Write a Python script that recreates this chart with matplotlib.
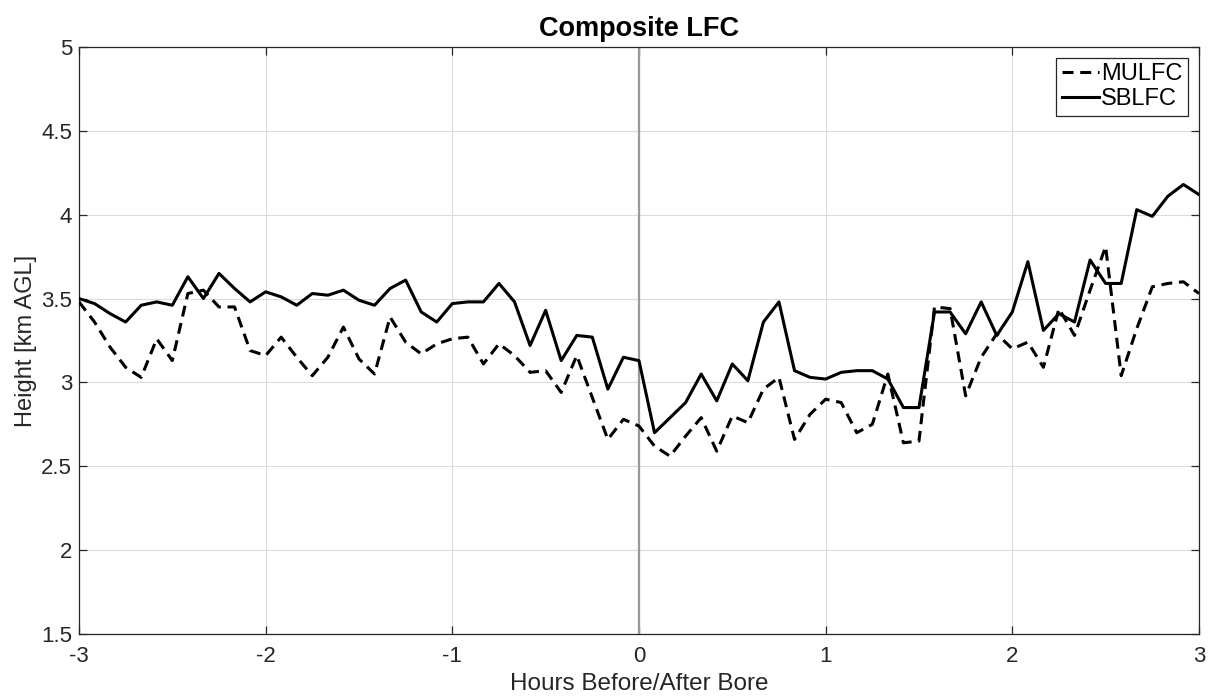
import numpy as np
import matplotlib
matplotlib.use('Agg')
import matplotlib.pyplot as plt

plt.rcParams['font.family'] = ['Liberation Sans', 'DejaVu Sans']
plt.rcParams['axes.unicode_minus'] = False

# 5-minute composite, 3 h either side of the bore passage
hours = np.linspace(-3, 3, 73)

mulfc = [3.48, 3.36, 3.21, 3.09, 3.03, 3.26, 3.13, 3.53, 3.55, 3.45,
         3.45, 3.19, 3.16, 3.27, 3.15, 3.04, 3.15, 3.33, 3.14, 3.05,
         3.39, 3.24, 3.17, 3.23, 3.26, 3.27, 3.11, 3.23, 3.16, 3.06,
         3.07, 2.94, 3.16, 2.91, 2.66, 2.78, 2.74, 2.62, 2.56, 2.68,
         2.79, 2.59, 2.80, 2.76, 2.96, 3.03, 2.66, 2.81, 2.90, 2.88,
         2.70, 2.75, 3.05, 2.64, 2.65, 3.45, 3.44, 2.92, 3.15, 3.29,
         3.20, 3.24, 3.09, 3.44, 3.28, 3.55, 3.81, 3.04, 3.32, 3.57,
         3.59, 3.60, 3.53]

sblfc = [3.50, 3.47, 3.41, 3.36, 3.46, 3.48, 3.46, 3.63, 3.50, 3.65,
         3.56, 3.48, 3.54, 3.51, 3.46, 3.53, 3.52, 3.55, 3.49, 3.46,
         3.56, 3.61, 3.42, 3.36, 3.47, 3.48, 3.48, 3.59, 3.48, 3.22,
         3.43, 3.13, 3.28, 3.27, 2.96, 3.15, 3.13, 2.70, 2.79, 2.88,
         3.05, 2.89, 3.11, 3.01, 3.36, 3.48, 3.07, 3.03, 3.02, 3.06,
         3.07, 3.07, 3.02, 2.85, 2.85, 3.42, 3.42, 3.29, 3.48, 3.28,
         3.42, 3.72, 3.31, 3.41, 3.36, 3.73, 3.59, 3.59, 4.03, 3.99,
         4.11, 4.18, 4.12]

fig = plt.figure(figsize=(12.15, 7), dpi=100)
ax = fig.add_axes([0.065, 0.0943, 0.9218, 0.8386])

ax.axvline(0, color='#999999', lw=1.6, zorder=1)
ax.plot(hours, mulfc, color='black', lw=2.2, ls=(0, (3.6, 2.2)), label='MULFC', zorder=3)
ax.plot(hours, sblfc, color='black', lw=2.2, label='SBLFC', zorder=3)

ax.set_xlim(-3, 3)
ax.set_ylim(1.5, 5)
ax.set_xticks(np.arange(-3, 4, 1))
ax.set_yticks(np.arange(1.5, 5.01, 0.5))
ax.set_yticklabels(['1.5', '2', '2.5', '3', '3.5', '4', '4.5', '5'])

ax.grid(True, color='#dcdcdc', lw=0.8)
ax.set_axisbelow(True)
for s in ax.spines.values():
    s.set_color('#262626')
    s.set_linewidth(0.9)
ax.tick_params(direction='in', length=6, width=0.9, colors='#262626',
               labelsize=16, top=True, right=True)
ax.tick_params(axis='x', pad=9)
ax.tick_params(axis='y', pad=5)

ax.set_title('Composite LFC', fontsize=19.5, fontweight='bold', pad=8)
ax.set_xlabel('Hours Before/After Bore', fontsize=17.5, color='#262626', labelpad=4)
ax.set_ylabel('Height [km AGL]', fontsize=17, color='#262626', labelpad=3)

leg = ax.legend(loc='upper right', fontsize=17, handlelength=1.55, handletextpad=0.1,
                borderpad=0.25, labelspacing=0.12, fancybox=False, framealpha=1,
                borderaxespad=0.45)
leg.get_frame().set_edgecolor('#262626')
leg.get_frame().set_linewidth(0.9)

fig.savefig('out.png', dpi=100)
